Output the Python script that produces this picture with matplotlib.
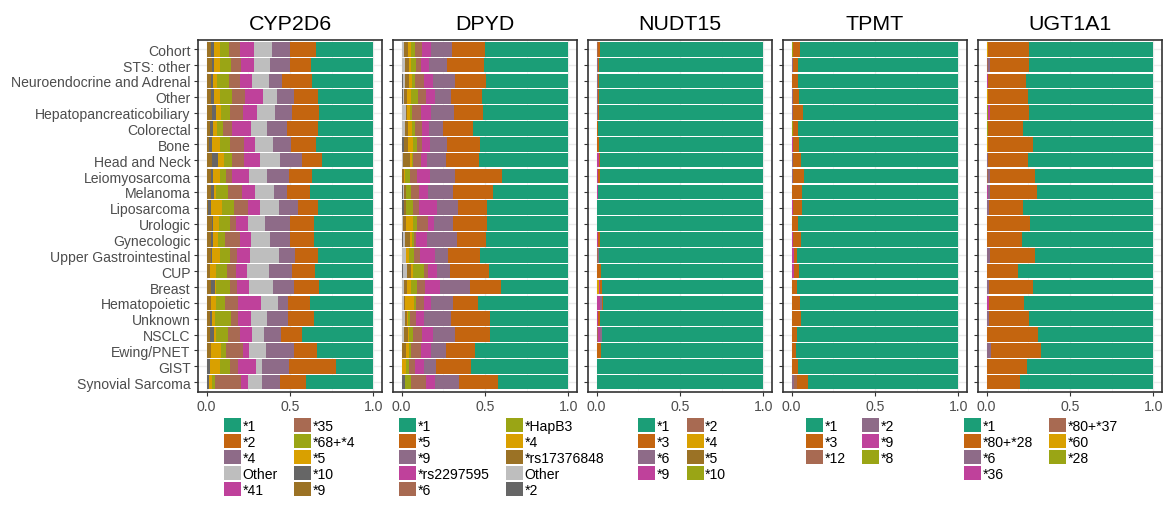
import matplotlib
matplotlib.use("Agg")
import numpy as np
import matplotlib.pyplot as plt
from matplotlib.patches import Patch

plt.rcParams['font.family'] = ['Liberation Sans', 'DejaVu Sans']

categories = [
    "Cohort", "STS: other", "Neuroendocrine and Adrenal", "Other",
    "Hepatopancreaticobiliary", "Colorectal", "Bone", "Head and Neck",
    "Leiomyosarcoma", "Melanoma", "Liposarcoma", "Urologic", "Gynecologic",
    "Upper Gastrointestinal", "CUP", "Breast", "Hematopoietic", "Unknown",
    "NSCLC", "Ewing/PNET", "GIST", "Synovial Sarcoma",
]

genes = ["CYP2D6", "DPYD", "NUDT15", "TPMT", "UGT1A1"]

# allele frequencies (%) per cancer type, columns follow the allele order
cyp2d6_alleles = ["*1", "*2", "*4", "Other", "*41", "*35", "*68+*4", "*5", "*10", "*9"]
cyp2d6_freq = [
    [34.8, 15.6, 10.8, 10.8, 8.4, 6.6, 6.0, 3.6, 1.8, 2.4],
    [38.0, 12.4, 12.0, 9.6, 7.8, 6.0, 7.2, 3.6, 1.2, 3.0],
    [37.2, 17.6, 8.2, 10.2, 7.2, 6.6, 7.2, 2.4, 1.2, 2.4],
    [33.6, 14.4, 10.2, 8.4, 10.8, 7.8, 7.2, 3.6, 1.8, 2.4],
    [33.2, 16.0, 10.2, 10.8, 8.4, 7.8, 6.0, 3.0, 2.4, 3.0],
    [33.2, 19.0, 12.0, 9.6, 11.4, 5.4, 3.6, 2.4, 1.8, 1.8],
    [34.8, 15.0, 10.8, 10.8, 6.6, 8.4, 6.6, 4.8, 1.8, 1.2],
    [30.8, 12.4, 13.2, 12.0, 9.6, 7.2, 5.4, 3.6, 3.6, 3.0],
    [36.8, 14.2, 13.2, 10.8, 9.8, 4.0, 3.6, 4.2, 1.2, 2.4],
    [38.4, 13.8, 7.8, 11.4, 7.4, 8.8, 7.2, 1.2, 1.8, 2.4],
    [33.2, 12.4, 11.4, 11.4, 7.2, 8.4, 7.2, 6.6, 1.6, 0.8],
    [35.6, 14.8, 15.0, 10.2, 7.2, 3.6, 6.6, 3.6, 0.6, 3.0],
    [36.0, 14.4, 12.0, 11.4, 6.6, 9.0, 4.2, 3.0, 1.2, 2.4],
    [33.6, 14.0, 9.4, 17.4, 8.0, 4.0, 6.6, 4.4, 1.0, 2.4],
    [35.6, 13.6, 13.8, 13.2, 6.6, 6.0, 6.6, 3.6, 0.0, 1.8],
    [33.2, 14.8, 12.6, 14.4, 7.2, 4.2, 9.0, 0.6, 2.4, 2.4],
    [38.4, 13.0, 6.2, 10.2, 13.4, 8.2, 5.4, 3.0, 0.0, 2.4],
    [36.0, 15.4, 12.8, 9.6, 7.4, 4.6, 9.6, 1.8, 1.2, 1.8],
    [43.2, 12.6, 10.2, 7.2, 7.2, 7.2, 7.2, 1.2, 2.4, 1.8],
    [34.4, 13.6, 16.8, 10.2, 3.8, 10.6, 3.0, 6.0, 0.0, 2.4],
    [22.8, 28.2, 16.2, 3.6, 10.4, 5.2, 6.0, 6.0, 1.8, 0.0],
    [40.8, 15.6, 10.8, 8.4, 4.2, 15.6, 1.8, 1.8, 1.2, 0.0],
]

dpyd_alleles = ["*1", "*5", "*9", "*rs2297595", "*6", "*HapB3", "*4", "*rs17376848", "Other", "*2"]
dpyd_freq = [
    [50.4, 19.8, 12.6, 5.4, 4.2, 2.4, 1.8, 2.4, 1.2, 0.0],
    [51.0, 22.2, 10.8, 4.8, 3.0, 3.0, 1.2, 2.4, 1.8, 0.0],
    [49.8, 18.6, 13.2, 5.4, 5.4, 1.8, 1.8, 2.4, 1.2, 0.6],
    [52.2, 18.6, 9.6, 5.4, 4.8, 4.2, 2.4, 1.8, 0.6, 0.6],
    [51.6, 17.4, 13.8, 6.0, 5.4, 1.2, 1.8, 0.6, 2.4, 0.0],
    [57.6, 18.0, 8.4, 4.2, 4.2, 1.8, 2.4, 1.8, 1.8, 0.0],
    [53.4, 19.8, 10.2, 4.8, 3.0, 2.4, 3.0, 2.4, 0.0, 1.2],
    [54.0, 19.8, 11.4, 3.6, 4.8, 0.6, 1.2, 4.2, 0.6, 0.0],
    [40.2, 28.2, 15.0, 7.8, 4.2, 3.0, 0.6, 1.2, 0.0, 0.0],
    [45.6, 24.0, 15.0, 5.4, 4.8, 3.0, 0.0, 1.2, 0.6, 0.6],
    [49.2, 17.4, 12.6, 10.8, 3.6, 4.2, 0.0, 1.2, 0.0, 1.2],
    [49.2, 20.4, 11.4, 3.6, 6.6, 2.4, 4.2, 1.8, 0.6, 0.0],
    [49.2, 17.4, 18.0, 6.6, 1.2, 1.2, 1.2, 3.0, 1.2, 0.6],
    [53.4, 19.2, 7.8, 9.0, 3.6, 3.0, 1.8, 0.0, 2.4, 0.0],
    [48.0, 23.4, 7.8, 5.4, 2.4, 6.6, 1.2, 2.4, 2.4, 0.6],
    [40.8, 18.6, 18.0, 9.0, 4.8, 3.6, 2.4, 1.8, 1.2, 0.0],
    [54.6, 15.0, 13.2, 4.2, 4.8, 1.2, 5.4, 0.6, 1.2, 0.0],
    [47.4, 23.4, 16.2, 4.8, 3.6, 1.2, 0.6, 1.2, 1.8, 0.0],
    [47.4, 21.0, 13.2, 6.6, 5.4, 2.4, 0.6, 2.4, 1.2, 0.0],
    [56.4, 17.4, 9.0, 6.0, 6.0, 1.2, 1.8, 2.4, 0.0, 0.0],
    [58.8, 21.0, 7.2, 5.4, 3.6, 1.8, 2.4, 0.0, 0.0, 0.0],
    [42.6, 23.4, 14.4, 5.4, 9.0, 3.6, 0.0, 0.0, 0.0, 1.8],
]

nudt15_alleles = ["*1", "*3", "*6", "*9", "*2", "*4", "*5", "*10"]
nudt15_freq = [
    [98.2, 1.2, 0.0, 0.0, 0.6, 0.0, 0.0, 0.0],
    [98.8, 0.6, 0.6, 0.0, 0.0, 0.0, 0.0, 0.0],
    [98.8, 0.6, 0.6, 0.0, 0.0, 0.0, 0.0, 0.0],
    [98.8, 0.6, 0.6, 0.0, 0.0, 0.0, 0.0, 0.0],
    [98.8, 0.6, 0.6, 0.0, 0.0, 0.0, 0.0, 0.0],
    [99.2, 0.8, 0.0, 0.0, 0.0, 0.0, 0.0, 0.0],
    [98.8, 1.2, 0.0, 0.0, 0.0, 0.0, 0.0, 0.0],
    [98.2, 0.6, 0.0, 1.2, 0.0, 0.0, 0.0, 0.0],
    [98.2, 1.0, 0.0, 0.8, 0.0, 0.0, 0.0, 0.0],
    [99.4, 0.0, 0.0, 0.6, 0.0, 0.0, 0.0, 0.0],
    [99.6, 0.0, 0.4, 0.0, 0.0, 0.0, 0.0, 0.0],
    [99.7, 0.3, 0.0, 0.0, 0.0, 0.0, 0.0, 0.0],
    [98.2, 1.2, 0.0, 0.6, 0.0, 0.0, 0.0, 0.0],
    [98.8, 0.0, 0.6, 0.0, 0.6, 0.0, 0.0, 0.0],
    [97.6, 2.4, 0.0, 0.0, 0.0, 0.0, 0.0, 0.0],
    [97.0, 1.2, 0.0, 0.6, 0.0, 1.2, 0.0, 0.0],
    [96.4, 0.6, 1.2, 1.8, 0.0, 0.0, 0.0, 0.0],
    [98.2, 1.2, 0.0, 0.6, 0.0, 0.0, 0.0, 0.0],
    [97.0, 0.0, 1.2, 1.2, 0.6, 0.0, 0.0, 0.0],
    [97.6, 2.4, 0.0, 0.0, 0.0, 0.0, 0.0, 0.0],
    [100.0, 0.0, 0.0, 0.0, 0.0, 0.0, 0.0, 0.0],
    [100.0, 0.0, 0.0, 0.0, 0.0, 0.0, 0.0, 0.0],
]

tpmt_alleles = ["*1", "*3", "*12", "*2", "*9", "*8"]
tpmt_freq = [
    [95.2, 4.2, 0.0, 0.0, 0.0, 0.6],
    [96.4, 3.0, 0.0, 0.6, 0.0, 0.0],
    [96.4, 3.2, 0.0, 0.4, 0.0, 0.0],
    [95.8, 3.6, 0.0, 0.6, 0.0, 0.0],
    [93.4, 6.0, 0.0, 0.6, 0.0, 0.0],
    [96.4, 3.0, 0.0, 0.0, 0.0, 0.6],
    [95.8, 3.6, 0.0, 0.0, 0.6, 0.0],
    [94.6, 4.8, 0.0, 0.6, 0.0, 0.0],
    [92.8, 6.6, 0.0, 0.6, 0.0, 0.0],
    [94.0, 6.0, 0.0, 0.0, 0.0, 0.0],
    [94.0, 5.4, 0.0, 0.0, 0.6, 0.0],
    [96.4, 3.6, 0.0, 0.0, 0.0, 0.0],
    [94.6, 4.8, 0.0, 0.0, 0.6, 0.0],
    [97.0, 1.8, 0.0, 0.0, 1.2, 0.0],
    [95.8, 3.0, 0.0, 0.0, 1.2, 0.0],
    [97.0, 3.0, 0.0, 0.0, 0.0, 0.0],
    [95.2, 4.8, 0.0, 0.0, 0.0, 0.0],
    [94.6, 5.4, 0.0, 0.0, 0.0, 0.0],
    [97.0, 3.0, 0.0, 0.0, 0.0, 0.0],
    [97.6, 2.4, 0.0, 0.0, 0.0, 0.0],
    [96.4, 3.6, 0.0, 0.0, 0.0, 0.0],
    [90.4, 6.6, 1.8, 1.2, 0.0, 0.0],
]

ugt1a1_alleles = ["*1", "*80+*28", "*6", "*36", "*80+*37", "*60", "*28"]
ugt1a1_freq = [
    [74.8, 24.6, 0.0, 0.0, 0.0, 0.6, 0.0],
    [74.8, 23.4, 1.2, 0.0, 0.6, 0.0, 0.0],
    [76.6, 22.6, 0.0, 0.8, 0.0, 0.0, 0.0],
    [75.4, 24.0, 0.0, 0.0, 0.0, 0.6, 0.0],
    [74.8, 23.4, 0.0, 1.2, 0.0, 0.0, 0.6],
    [78.4, 21.0, 0.0, 0.0, 0.0, 0.0, 0.6],
    [72.4, 27.0, 0.0, 0.0, 0.0, 0.6, 0.0],
    [75.4, 24.0, 0.6, 0.0, 0.0, 0.0, 0.0],
    [71.2, 27.0, 1.2, 0.0, 0.6, 0.0, 0.0],
    [70.0, 28.2, 1.2, 0.6, 0.0, 0.0, 0.0],
    [78.4, 20.4, 1.2, 0.0, 0.0, 0.0, 0.0],
    [74.2, 25.8, 0.0, 0.0, 0.0, 0.0, 0.0],
    [79.0, 21.0, 0.0, 0.0, 0.0, 0.0, 0.0],
    [71.2, 27.0, 1.8, 0.0, 0.0, 0.0, 0.0],
    [81.4, 18.6, 0.0, 0.0, 0.0, 0.0, 0.0],
    [72.4, 26.4, 1.2, 0.0, 0.0, 0.0, 0.0],
    [77.8, 21.0, 0.0, 1.2, 0.0, 0.0, 0.0],
    [74.8, 24.0, 1.2, 0.0, 0.0, 0.0, 0.0],
    [69.4, 30.6, 0.0, 0.0, 0.0, 0.0, 0.0],
    [67.6, 30.0, 2.4, 0.0, 0.0, 0.0, 0.0],
    [76.0, 24.0, 0.0, 0.0, 0.0, 0.0, 0.0],
    [80.2, 19.8, 0.0, 0.0, 0.0, 0.0, 0.0],
]

GREEN, ORANGE, PURPLE, GREY = "#1B9E77", "#C4650F", "#8E6B88", "#BEBEBE"
MAGENTA, BROWN, OLIVE, GOLD = "#BF419B", "#A86A52", "#9AA515", "#D9A000"
DARK, OCHRE = "#666666", "#9B7225"

cyp2d6_colors = [GREEN, ORANGE, PURPLE, GREY, MAGENTA, BROWN, OLIVE, GOLD, DARK, OCHRE]
dpyd_colors = [GREEN, ORANGE, PURPLE, MAGENTA, BROWN, OLIVE, GOLD, OCHRE, GREY, DARK]
nudt15_colors = [GREEN, ORANGE, PURPLE, MAGENTA, BROWN, GOLD, OCHRE, OLIVE]
tpmt_colors = [GREEN, ORANGE, BROWN, PURPLE, MAGENTA, OLIVE]
ugt1a1_colors = [GREEN, ORANGE, PURPLE, MAGENTA, BROWN, GOLD, OLIVE]

panels = [
    (cyp2d6_alleles, cyp2d6_freq, cyp2d6_colors),
    (dpyd_alleles, dpyd_freq, dpyd_colors),
    (nudt15_alleles, nudt15_freq, nudt15_colors),
    (tpmt_alleles, tpmt_freq, tpmt_colors),
    (ugt1a1_alleles, ugt1a1_freq, ugt1a1_colors),
]

W, H = 1168, 510
fig = plt.figure(figsize=(W / 100, H / 100), dpi=100)

FS = 10.1
panel_left = [198.3 + 195 * k for k in range(5)]
panel_w = 183.5
panel_top, panel_bot = 40.7, 392.7
legend_x = [224, 399, 638, 806, 964]
legend_top = 419

y = np.arange(len(categories))

for k, (gene, (alleles, freq, colors)) in enumerate(zip(genes, panels)):
    ax = fig.add_axes([panel_left[k] / W, 1 - panel_bot / H,
                       panel_w / W, (panel_bot - panel_top) / H])
    vals = np.array(freq, dtype=float)
    vals = vals / vals.sum(axis=1, keepdims=True)  # proportions per row
    left = np.zeros(len(categories))
    # stack from the last allele on the left to the first on the right
    for j in range(len(alleles) - 1, -1, -1):
        ax.barh(y, vals[:, j], left=left, height=0.92, color=colors[j],
                linewidth=0, zorder=2)
        left += vals[:, j]

    ax.set_xlim(-0.05, 1.05)
    ax.set_ylim(len(categories) - 0.4, -0.6)
    ax.set_xticks([0, 0.5, 1.0])
    ax.set_xticklabels(["0.0", "0.5", "1.0"])
    ax.set_xticks([0.25, 0.75], minor=True)
    ax.set_yticks(y)
    if k == 0:
        ax.set_yticklabels(categories)
    else:
        ax.set_yticklabels([])
    ax.set_axisbelow(True)
    ax.grid(which="major", color="#EBEBEB", linewidth=1.0, zorder=0)
    ax.grid(which="minor", axis="x", color="#F2F2F2", linewidth=0.6, zorder=0)
    ax.tick_params(which="major", length=3, width=0.8, color="#333333",
                   labelsize=FS, labelcolor="#4D4D4D", pad=2.5)
    ax.tick_params(which="minor", length=0)
    if k != 0:
        ax.tick_params(axis="y", length=3)
    for s in ax.spines.values():
        s.set_color("#333333")
        s.set_linewidth(1.2)
    ax.set_title(gene, fontsize=15.4, pad=8)

    handles = [Patch(facecolor=c, edgecolor="none") for c in colors]
    fig.legend(handles, alleles, loc="upper left",
               bbox_to_anchor=(legend_x[k] / W, 1 - legend_top / H),
               ncol=2, frameon=False, fontsize=FS, borderpad=0,
               borderaxespad=0, handlelength=1.21, handleheight=1.21,
               handletextpad=0.1, labelspacing=0.07, columnspacing=1.2)

fig.savefig("out.png", dpi=100)
